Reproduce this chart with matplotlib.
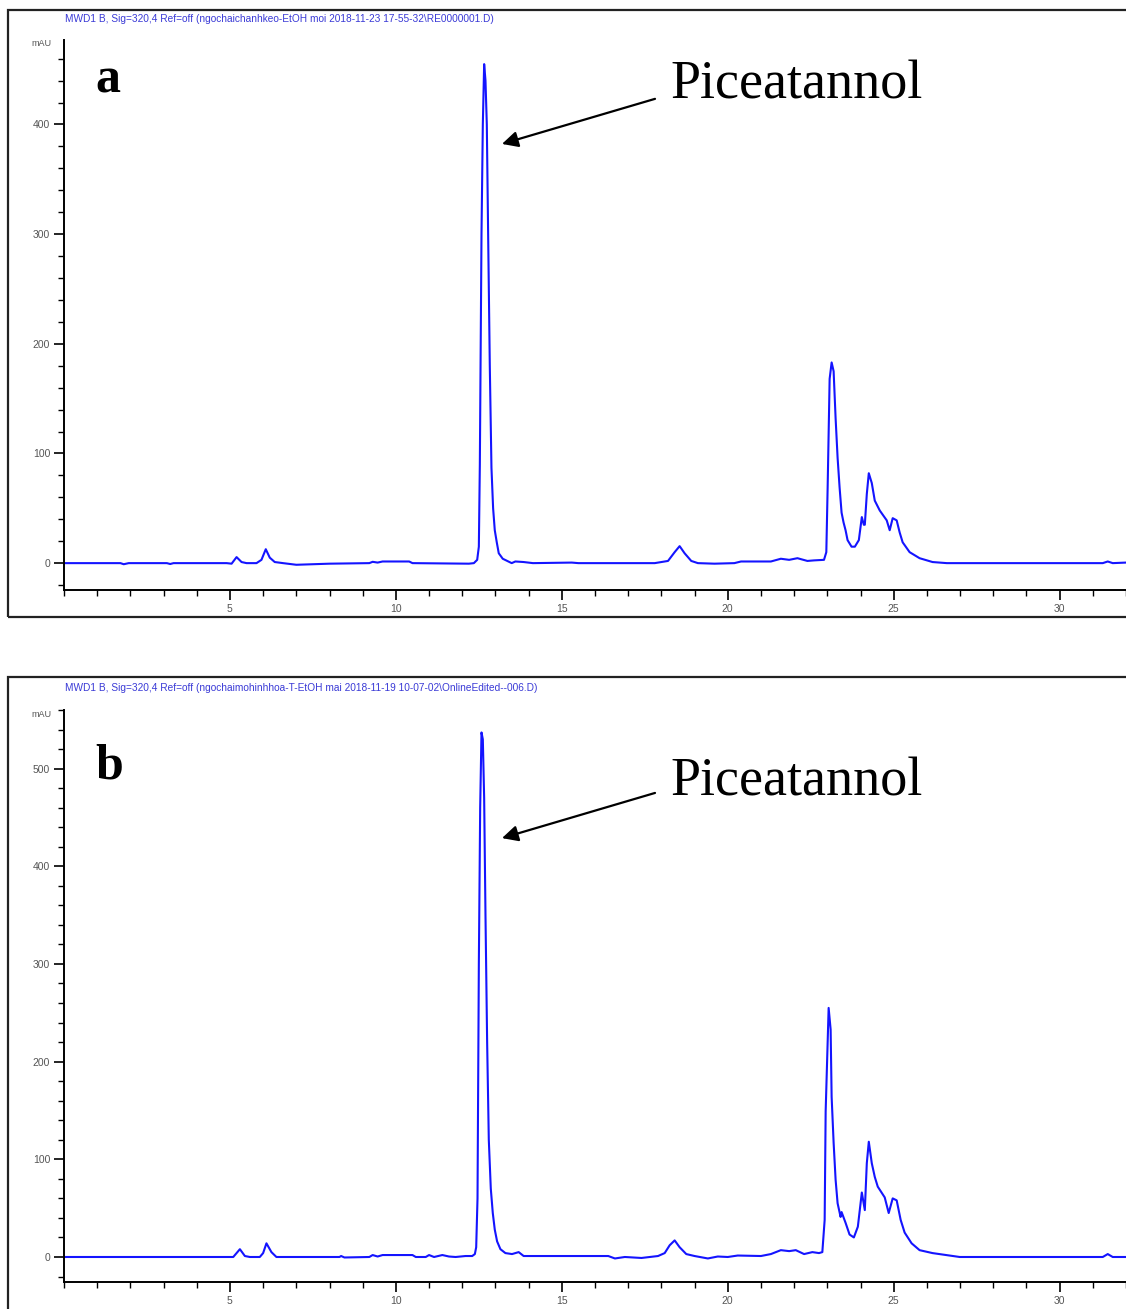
import matplotlib
matplotlib.use("Agg")
import matplotlib.pyplot as plt
from matplotlib.patches import Rectangle
from matplotlib.ticker import MultipleLocator

# chromatogram a (retention time in min, absorbance in mAU)
time_a = [0.0, 1.7, 1.8, 1.95, 3.1, 3.2, 3.3, 4.9, 5.05, 5.2, 5.35, 5.5, 5.8, 5.95, 6.08, 6.2,
          6.35, 6.6, 7.0, 7.5, 8.0, 9.2, 9.3, 9.45, 9.6, 10.4, 10.5, 12.2, 12.35, 12.45, 12.5,
          12.53, 12.58, 12.62, 12.66, 12.7, 12.74, 12.78, 12.83, 12.88, 12.93, 12.98, 13.04,
          13.1, 13.22, 13.49, 13.6, 13.85, 14.13, 15.3, 15.5, 17.8, 18.2, 18.4, 18.55, 18.7,
          18.9, 19.1, 19.6, 20.2, 20.4, 21.3, 21.6, 21.85, 22.1, 22.4, 22.6, 22.9, 22.97,
          23.01, 23.07, 23.13, 23.19, 23.25, 23.31, 23.37, 23.43, 23.49, 23.55, 23.61, 23.73,
          23.83, 23.95, 24.04, 24.1, 24.13, 24.19, 24.25, 24.34, 24.43, 24.58, 24.79, 24.88,
          24.97, 25.09, 25.18, 25.27, 25.48, 25.78, 26.17, 26.6, 31.3, 31.45, 31.6, 32.0]
mau_a = [0, 0, -1, 0, 0, -0.8, 0, 0, -0.5, 5.5, 1, 0, 0, 3, 12.7, 5,
         1, 0, -1.5, -1, -0.5, 0, 1.2, 0.5, 1.5, 1.5, 0, -0.5, 0, 3, 15,
         90, 300, 400, 455, 440, 400, 300, 180, 87, 50, 30, 19,
         9, 4, 0, 1.5, 1, 0, 0.5, 0, 0, 2, 10, 15.5, 9,
         2, 0, -0.5, 0, 1.5, 1.5, 4, 3, 4.5, 2, 2.5, 3, 10,
         69, 168, 183, 175, 132, 96, 69, 46, 37, 30, 21, 15,
         15, 21, 42, 35, 35, 63, 82, 73, 57, 48, 39, 30,
         41, 39, 28, 19, 10, 4.5, 1, 0, 0, 1.5, 0, 0.5]

# chromatogram b
time_b = [0.0, 5.1, 5.3, 5.45, 5.6, 5.9, 6.0, 6.1, 6.25, 6.4, 8.3, 8.35, 8.45, 9.2, 9.3, 9.45,
          9.6, 10.5, 10.6, 10.9, 11.0, 11.15, 11.4, 11.6, 11.8, 12.1, 12.3, 12.38, 12.42, 12.46,
          12.5, 12.54, 12.58, 12.62, 12.66, 12.7, 12.75, 12.8, 12.86, 12.92, 12.98, 13.05,
          13.15, 13.3, 13.5, 13.7, 13.85, 16.4, 16.6, 16.9, 17.4, 17.9, 18.1, 18.25, 18.4,
          18.55, 18.75, 19.0, 19.4, 19.7, 20.0, 20.3, 21.0, 21.3, 21.6, 21.85, 22.05, 22.3,
          22.55, 22.75, 22.85, 22.92, 22.95, 23.04, 23.1, 23.13, 23.19, 23.25, 23.31, 23.4,
          23.43, 23.55, 23.67, 23.8, 23.92, 24.04, 24.13, 24.19, 24.25, 24.34, 24.43, 24.52,
          24.73, 24.85, 24.97, 25.09, 25.21, 25.33, 25.54, 25.78, 26.17, 26.99, 31.3, 31.45,
          31.6, 32.0]
mau_b = [0, 0, 8, 1, 0, 0, 4, 14, 5, 0, 0, 1, -0.5, 0, 2, 0.5,
         2, 2, 0, 0, 2, 0, 2, 0.5, 0, 1, 1, 3, 10, 60,
         300, 460, 537, 530, 470, 350, 220, 120, 70, 45, 28, 16,
         8, 4, 3, 5, 1, 1, -1.5, 0, -1, 1, 4, 12, 17,
         10, 3, 1, -1.5, 0.5, 0, 1.5, 1, 3, 7, 6, 7, 3,
         5, 4, 5, 38, 149, 255, 233, 164, 117, 79, 55, 41,
         46, 35, 23, 20, 31, 66, 48, 96, 118, 96, 82, 72,
         61, 45, 60, 58, 38, 25, 14, 7, 4, 0, 0, 3,
         0, 0]

headers = [
    r"MWD1 B, Sig=320,4 Ref=off (ngochaichanhkeo-EtOH moi 2018-11-23 17-55-32\RE0000001.D)",
    r"MWD1 B, Sig=320,4 Ref=off (ngochaimohinhhoa-T-EtOH mai 2018-11-19 10-07-02\OnlineEdited--006.D)",
]
panel_letters = ["a", "b"]
compound = "Piceatannol"

small = ["Liberation Sans", "DejaVu Sans"]
serif = ["Liberation Serif", "DejaVu Serif"]

W, H = 1126, 1309
fig = plt.figure(figsize=(W / 100, H / 100), dpi=100)


def fx(px):
    return px / W


def fy(py):
    return 1 - py / H


# frames around each panel
for top, bottom in [(10, 617), (677, 1320)]:
    fig.patches.append(Rectangle((fx(8), fy(bottom)), fx(1140) - fx(8), fy(top) - fy(bottom),
                                 transform=fig.transFigure, fill=False, ec="#222222", lw=1.6,
                                 clip_on=False))

panels = [
    dict(t=time_a, y=mau_a, box=(64, 40, 590), ylim=(-24.5, 477), head_y=19,
         arrow=((0.4124, 0.811), (0.5565, 0.893)), text_y=0.893, letter_y=0.905),
    dict(t=time_b, y=mau_b, box=(64, 710, 1282), ylim=(-25.6, 560), head_y=688,
         arrow=((0.4124, 0.776), (0.5565, 0.855)), text_y=0.851, letter_y=0.880),
]

for i, p in enumerate(panels):
    left, top, bottom = p["box"]
    ax = fig.add_axes([fx(left), fy(bottom), fx(W) - fx(left), fy(top) - fy(bottom)])
    ax.plot(p["t"], p["y"], color="#1414ff", lw=1.5)
    ax.set_xlim(0, 32)
    ax.set_ylim(*p["ylim"])
    for s in ["top", "right"]:
        ax.spines[s].set_visible(False)
    for s in ["left", "bottom"]:
        ax.spines[s].set_linewidth(1.4)
        ax.spines[s].set_color("black")
    ax.xaxis.set_major_locator(MultipleLocator(5))
    ax.xaxis.set_minor_locator(MultipleLocator(1))
    ax.yaxis.set_major_locator(MultipleLocator(100))
    ax.yaxis.set_minor_locator(MultipleLocator(20))
    ax.set_xticks([5, 10, 15, 20, 25, 30])
    ax.tick_params(which="major", direction="out", length=7, width=1.2, colors="black",
                   labelcolor="#555555", labelsize=7.5, pad=3)
    ax.tick_params(which="minor", direction="out", length=4, width=1.0, colors="black")
    for lab in ax.get_xticklabels() + ax.get_yticklabels():
        lab.set_family(small)
    ax.text(-0.012, 0.993, "mAU", transform=ax.transAxes, ha="right", va="center",
            fontsize=6.5, color="#555555", family=small)

    fig.text(fx(65), fy(p["head_y"]), headers[i], ha="left", va="center",
             fontsize=7.3, color="#3a3ad6", family=small)

    ax.text(0.0292, p["letter_y"], panel_letters[i], transform=ax.transAxes,
            ha="left", va="baseline", fontsize=36, fontweight="bold", family=serif)
    ax.text(0.5706, p["text_y"], compound, transform=ax.transAxes, ha="left",
            va="baseline", fontsize=39, family=serif)
    head, tail = p["arrow"]
    ax.annotate("", xy=head, xycoords="axes fraction", xytext=tail,
                textcoords="axes fraction",
                arrowprops=dict(arrowstyle="-|>", color="black", lw=1.6,
                                mutation_scale=24, shrinkA=0, shrinkB=0))

fig.savefig("out.png", dpi=100)
